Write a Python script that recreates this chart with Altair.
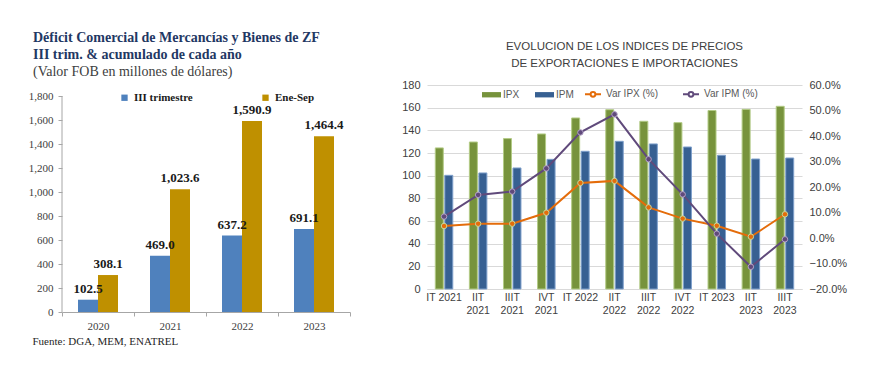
import altair as alt
import pandas as pd

# ---------------- Left chart data ----------------
years = ["2020", "2021", "2022", "2023"]
iii_trim = [102.5, 469.0, 637.2, 691.1]
ene_sep = [308.1, 1023.6, 1590.9, 1464.4]
series_left = ["III trimestre", "Ene-Sep"]
colors_left = ["#4F81BD", "#BF9000"]

# ---------------- Right chart data ----------------
quarters = ["IT 2021", "IIT 2021", "IIIT 2021", "IVT 2021", "IT 2022", "IIT 2022",
            "IIIT 2022", "IVT 2022", "IT 2023", "IIT 2023", "IIIT 2023"]
ipx = [124.5, 129.7, 132.7, 136.8, 150.9, 158.2, 148.0, 146.8, 157.5, 158.5, 161.2]
ipm = [100.3, 102.4, 106.8, 114.4, 121.5, 130.3, 128.0, 125.3, 118.0, 114.7, 115.6]
var_ipx = [4.7, 5.6, 5.6, 9.9, 21.6, 22.4, 12.0, 7.6, 4.8, 0.5, 9.3]
var_ipm = [8.4, 16.9, 18.2, 27.3, 41.4, 48.5, 30.9, 17.1, 1.7, -11.3, -0.5]
bar_series = ["IPX", "IPM"]
line_series = ["Var IPX (%)", "Var IPM (%)"]

serif = "Liberation Serif"
sans = "Liberation Sans"

# ---------------- Left chart ----------------
left_df = pd.DataFrame({
    "year": years * 2,
    "serie": [series_left[0]] * len(years) + [series_left[1]] * len(years),
    "valor": iii_trim + ene_sep,
})
left_axis_df = pd.DataFrame({"y0": [0], "y1": [1800]})

xL = alt.X("year:N", sort=years,
           scale=alt.Scale(paddingInner=0, paddingOuter=0),
           axis=alt.Axis(title="Fuente: DGA, MEM, ENATREL", titleAnchor="start",
                         titleX=-30, titleY=29, titleAlign="left", titleBaseline="middle",
                         titleFont=serif, titleFontSize=11, titleFontWeight="normal",
                         titleColor="#262626", labelAngle=0, labelFont=serif,
                         labelFontSize=11, labelColor="#404040", labelPadding=4,
                         tickBand="extent", tickSize=4, tickColor="#a6a6a6",
                         domainColor="#a6a6a6"))
yscaleL = alt.Scale(domain=[0, 1891.7], nice=False)
yaxisL = alt.Axis(values=list(range(0, 1801, 200)), format=",.0f", title=None,
                  grid=False, domain=False, labelOverlap=False,
                  labelFont=serif, labelFontSize=11,
                  labelColor="#404040", labelPadding=5, tickSize=4,
                  tickColor="#a6a6a6")
yL = alt.Y("valor:Q", scale=yscaleL, axis=yaxisL)
colorL = alt.Color("serie:N", sort=series_left,
                   scale=alt.Scale(domain=series_left, range=colors_left),
                   legend=alt.Legend(orient="none", legendX=57, legendY=7,
                                     direction="horizontal", columns=2, title=None,
                                     symbolType="square", symbolSize=40,
                                     symbolStrokeWidth=0,
                                     labelFont=serif, labelFontWeight="bold",
                                     labelFontSize=11, labelColor="#1a1a1a",
                                     columnPadding=67, padding=0, labelOffset=4))

axisL = alt.Chart(left_axis_df).mark_rule(color="#a6a6a6", strokeWidth=1).encode(
    x=alt.value(0), y=alt.Y("y0:Q", scale=yscaleL, axis=yaxisL), y2="y1:Q")

bar_layers_L = []
text_layers_L = []
for s, off in zip(series_left, [-10, 10]):
    base = alt.Chart(left_df).transform_filter(alt.datum.serie == s)
    bar_layers_L.append(base.mark_bar(width=20, xOffset=off).encode(x=xL, y=yL, color=colorL))
    text_layers_L.append(base.mark_text(baseline="bottom", dy=-4, dx=off, font=serif,
                                        fontSize=13, fontWeight="bold", color="#1a1a1a").encode(
        x=xL, y=yL, text=alt.Text("valor:Q", format=",.1f")))

left = alt.layer(*bar_layers_L, *text_layers_L, axisL).properties(
    width=288, height=227,
    title=alt.TitleParams(
        text=["Déficit Comercial de Mercancías y Bienes de ZF",
              "III trim. & acumulado de cada año"],
        subtitle="(Valor FOB en millones de dólares)",
        anchor="start", frame="group", dx=-29, font=serif, fontSize=14,
        fontWeight="bold", color="#1F3864", lineHeight=17.5,
        subtitleFont=serif, subtitleFontSize=14, subtitleColor="#404040",
        subtitlePadding=3, offset=6),
)

# ---------------- Right chart ----------------
bars_df = pd.DataFrame({
    "q": quarters * 2,
    "serie": [bar_series[0]] * len(quarters) + [bar_series[1]] * len(quarters),
    "indice": ipx + ipm,
})
lines_df = pd.DataFrame({
    "q": quarters * 2,
    "serie": [line_series[0]] * len(quarters) + [line_series[1]] * len(quarters),
    "var": [v / 100 for v in var_ipx + var_ipm],
})

xR = alt.X("q:N", sort=quarters, scale=alt.Scale(paddingInner=0, paddingOuter=0),
           axis=alt.Axis(title=None, labelAngle=0, ticks=False, domainColor="#d9d9d9",
                         labelFont=sans, labelFontSize=10.5, labelColor="#404040",
                         labelPadding=3, labelLineHeight=13,
                         labelExpr="indexof(datum.label, 'IT ') == 0 ? datum.label : split(datum.label, ' ')"))
yBars = alt.Y("indice:Q", scale=alt.Scale(domain=[0, 180]),
              axis=alt.Axis(values=list(range(0, 181, 20)), title=None, grid=True,
                            gridColor="#d9d9d9", domain=False, ticks=False,
                            labelOverlap=False,
                            labelFont=sans, labelFontSize=11, labelColor="#404040",
                            labelPadding=7))
colorBars = alt.Color("serie:N", sort=bar_series,
                      scale=alt.Scale(domain=bar_series, range=["#77933C", "#376092"]),
                      legend=alt.Legend(orient="none", legendX=55, legendY=0,
                                        direction="horizontal", columns=2, title=None,
                                        symbolType="M-1,-0.28H1V0.28H-1Z", symbolSize=361,
                                        symbolStrokeWidth=0, labelFont=sans,
                                        labelFontSize=10, labelColor="#595959",
                                        columnPadding=15, padding=0, labelOffset=2))
strokeBars = alt.Stroke("serie:N", sort=bar_series,
                        scale=alt.Scale(domain=bar_series, range=["#B3CB86", "#7FA0CC"]),
                        legend=None)

bar_layers = []
for s, off in zip(bar_series, [-4.75, 4.75]):
    bar_layers.append(
        alt.Chart(bars_df).transform_filter(alt.datum.serie == s)
        .mark_bar(width=8, xOffset=off, strokeWidth=1)
        .encode(x=xR, y=yBars, color=colorBars, stroke=strokeBars))
barsR = alt.layer(*bar_layers)

yR = alt.Y("var:Q", scale=alt.Scale(domain=[-0.2, 0.6]),
           axis=alt.Axis(orient="right", values=[-0.2, -0.1, 0, 0.1, 0.2, 0.3, 0.4, 0.5, 0.6],
                         format=".1%", title=None, grid=False, domain=False, ticks=False,
                         labelOverlap=False,
                         labelFont=sans, labelFontSize=11, labelColor="#404040",
                         labelPadding=7))

lineR = alt.Chart(lines_df).mark_line(strokeWidth=2).encode(
    x=xR, y=yR,
    color=alt.Color("serie:N", sort=line_series,
                    scale=alt.Scale(domain=line_series, range=["#E46C0A", "#604A7B"]),
                    legend=alt.Legend(orient="none", legendX=157, legendY=0,
                                      direction="horizontal", columns=2, title=None,
                                      symbolType="M-1,0H-0.3A0.3,0.3,0,1,1,0.3,0A0.3,0.3,0,1,1,-0.3,0M0.3,0H1",
                                      symbolSize=256, symbolStrokeWidth=2,
                                      labelFont=sans, labelFontSize=10,
                                      labelColor="#595959", columnPadding=20,
                                      padding=0, labelOffset=4)),
)
ptsR = alt.Chart(lines_df).mark_point(filled=True, size=30, strokeWidth=1, opacity=1).encode(
    x=xR, y=yR,
    fill=alt.Fill("serie:N", sort=line_series,
                  scale=alt.Scale(domain=line_series, range=["#E46C0A", "#604A7B"]),
                  legend=None),
    stroke=alt.Stroke("serie:N", sort=line_series,
                      scale=alt.Scale(domain=line_series, range=["#C3D69B", "#B3A2C7"]),
                      legend=None),
)

right = alt.layer(barsR, alt.layer(lineR, ptsR)).resolve_scale(
    y="independent", color="independent", stroke="independent"
).properties(
    width=375, height=204,
    title=alt.TitleParams(
        text=" ", fontSize=4,
        subtitle=["EVOLUCION DE LOS INDICES DE PRECIOS",
                  "DE EXPORTACIONES E IMPORTACIONES"],
        anchor="middle", frame="group", dx=10,
        subtitleFont=sans, subtitleFontSize=11.5, subtitleColor="#404040",
        subtitleLineHeight=17, subtitlePadding=6, offset=10),
)

chart = alt.ConcatChart(concat=[left, right], columns=2, align="none", spacing=50).properties(
    padding={"left": 28, "top": 30, "right": 5, "bottom": 5},
    background="white",
).configure_view(stroke=None)

chart.save("out.html", embed_options={"renderer": "svg", "actions": False})
